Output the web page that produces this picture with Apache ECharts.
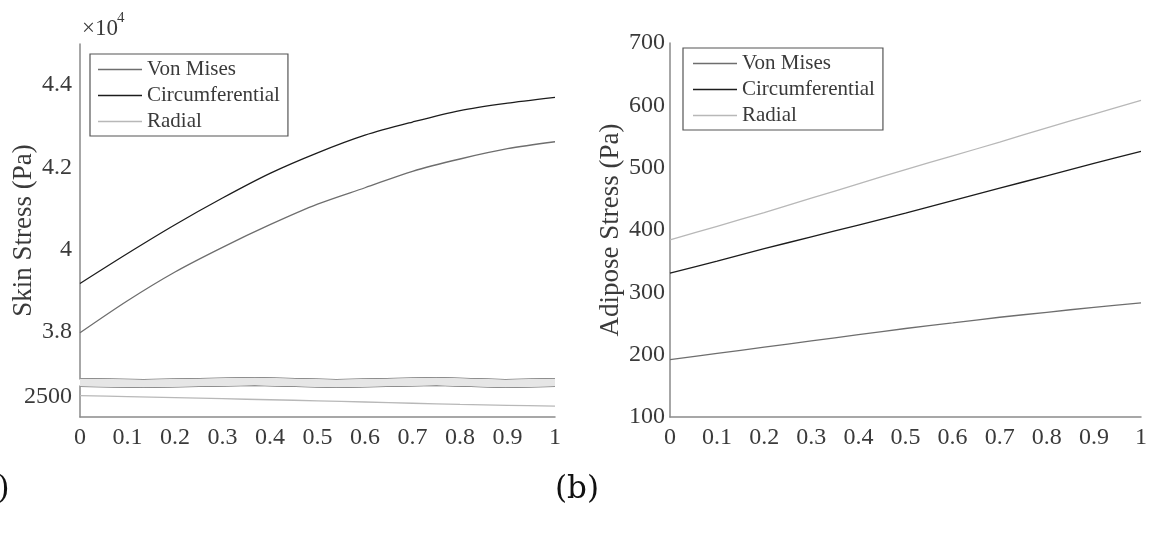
<!DOCTYPE html>
<html>
<head>
<meta charset="utf-8">
<script src="https://cdn.jsdelivr.net/npm/echarts@6/dist/echarts.min.js"></script>
<style>
html,body{margin:0;padding:0;background:#fff;}
#c{width:1150px;height:535px;}
</style>
</head>
<body>
<div id="c"></div>
<script>
// ---- data ----
const xs = [0, 0.1, 0.2, 0.3, 0.4, 0.5, 0.6, 0.7, 0.8, 0.9, 1];
const seriesNames = ['Von Mises', 'Circumferential', 'Radial'];
// Skin stress (Pa)
const skinVonMises = [37970, 38750, 39450, 40050, 40600, 41100, 41500, 41900, 42200, 42450, 42620];
const skinCirc     = [39170, 39900, 40600, 41250, 41850, 42350, 42780, 43100, 43380, 43560, 43700];
const skinRadial   = [2520, 2495, 2470, 2445, 2420, 2395, 2365, 2335, 2305, 2285, 2265];
// Adipose stress (Pa)
const adiposeVonMises = [192, 202, 212, 222, 232, 242, 251, 260, 268, 276, 283];
const adiposeCirc     = [331, 350, 370, 389, 408, 427, 447, 467, 487, 507, 526];
const adiposeRadial   = [384, 406, 428, 451, 474, 497, 519, 541, 564, 586, 608];
// axes
const skinMin = 2000, skinMax = 45000;
const skinBreakStart = 2750, skinBreakEnd = 36850;
const skinTickValues = [2500, 38000, 40000, 42000, 44000];
const adiposeMin = 100, adiposeMax = 700, adiposeStep = 100;
const xMin = 0, xMax = 1, xStep = 0.1;

// ---- styles ----
const FONT = 'Liberation Serif';
const TXT = '#3a3a3a';
const AX = '#8a8a8a';
const colors = {'Von Mises': '#6e6e6e', 'Circumferential': '#1c1c1c', 'Radial': '#b8b8b8'};

const pairs = (ys) => xs.map((x, i) => [x, ys[i]]);
const fmtX = v => String(parseFloat(v.toFixed(2)));

function xAxisFor(gi) {
  return {
    type: 'value', gridIndex: gi, min: xMin, max: xMax, interval: xStep,
    axisLine: {show: true, onZero: false, lineStyle: {color: AX, width: 1.5}},
    axisTick: {show: false}, splitLine: {show: false},
    axisLabel: {color: TXT, fontFamily: FONT, fontSize: 24, margin: 9, formatter: fmtX, showMinLabel: true, showMaxLabel: true}
  };
}
function lineSeries(name, gi, ys) {
  return {
    type: 'line', name: name, xAxisIndex: gi, yAxisIndex: gi,
    data: pairs(ys), symbol: 'none', smooth: 0.3,
    lineStyle: {color: colors[name], width: 1.3}, itemStyle: {color: colors[name]},
    emphasis: {disabled: true}
  };
}
function legendFor(left, top, padL) {
  return {
    left: left, top: top, orient: 'vertical', data: seriesNames,
    icon: 'rect', itemWidth: 44, itemHeight: 1.5, itemGap: 5,
    backgroundColor: '#fff', borderColor: '#555', borderWidth: 1.2, borderRadius: 0,
    padding: [5, 8, 4, padL], selectedMode: false,
    textStyle: {fontFamily: FONT, fontSize: 21, color: TXT}
  };
}

const chart = echarts.init(document.getElementById('c'), null, {renderer: 'canvas'});
chart.setOption({
  animation: false,
  backgroundColor: '#fff',
  grid: [
    {left: 80, top: 44, width: 475, height: 373},
    {left: 670, top: 43, width: 474, height: 374}
  ],
  xAxis: [xAxisFor(0), xAxisFor(1)],
  yAxis: [
    {
      type: 'value', gridIndex: 0, min: skinMin, max: skinMax,
      breaks: [{start: skinBreakStart, end: skinBreakEnd, gap: '2%'}],
      breakArea: {
        show: true, expandOnClick: false,
        zigzagAmplitude: 1, zigzagMinSpan: 60, zigzagMaxSpan: 120, zigzagZ: 100,
        itemStyle: {color: '#e6e6e6', borderColor: '#444', borderWidth: 1.2, borderType: 'solid', opacity: 1}
      },
      name: 'Skin Stress (Pa)', nameLocation: 'middle', nameGap: 43, nameMoveOverlap: false,
      nameTextStyle: {fontFamily: FONT, fontSize: 27, color: TXT},
      axisLine: {show: true, lineStyle: {color: AX, width: 1.5}},
      axisTick: {show: false}, splitLine: {show: false},
      axisLabel: {
        customValues: skinTickValues, color: TXT, fontFamily: FONT, fontSize: 24, margin: 8,
        formatter: v => v >= 10000 ? String(parseFloat((v / 1e4).toFixed(2))) : String(v)
      }
    },
    {
      type: 'value', gridIndex: 1, min: adiposeMin, max: adiposeMax, interval: adiposeStep,
      name: 'Adipose Stress (Pa)', nameLocation: 'middle', nameGap: 46, nameMoveOverlap: false,
      nameTextStyle: {fontFamily: FONT, fontSize: 27, color: TXT},
      axisLine: {show: true, lineStyle: {color: AX, width: 1.5}},
      axisTick: {show: false}, splitLine: {show: false},
      axisLabel: {color: TXT, fontFamily: FONT, fontSize: 24, margin: 5}
    }
  ],
  legend: [legendFor(90, 54, 8), legendFor(683, 48, 10)],
  series: [
    lineSeries('Von Mises', 0, skinVonMises),
    lineSeries('Circumferential', 0, skinCirc),
    lineSeries('Radial', 0, skinRadial),
    lineSeries('Von Mises', 1, adiposeVonMises),
    lineSeries('Circumferential', 1, adiposeCirc),
    lineSeries('Radial', 1, adiposeRadial)
  ],
  graphic: [
    {type: 'text', left: 82, top: 17, style: {text: '×10', font: '23px "Liberation Serif"', fill: TXT}},
    {type: 'text', left: 117, top: 11, style: {text: '4', font: '15px "Liberation Serif"', fill: TXT}},
    {type: 'text', left: 555, top: 474, style: {text: '(b)', font: '31px "DejaVu Serif"', fill: '#111'}},
    {type: 'text', left: -33, top: 474, style: {text: '(a)', font: '31px "DejaVu Serif"', fill: '#111'}}
  ]
});
</script>
</body>
</html>
